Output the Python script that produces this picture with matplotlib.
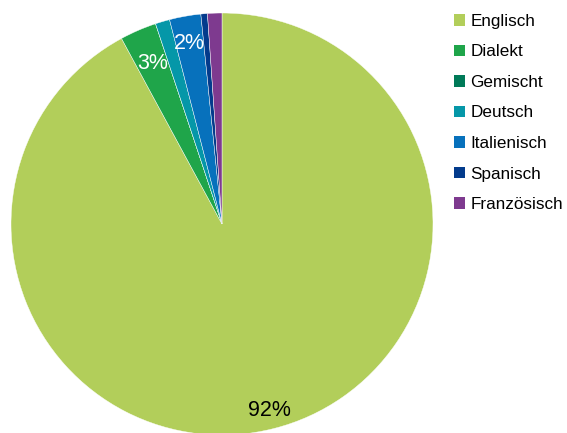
import matplotlib
matplotlib.use("Agg")
import matplotlib.pyplot as plt
import numpy as np

plt.rcParams['font.family'] = ['Liberation Sans', 'DejaVu Sans']

categories = ["Englisch", "Dialekt", "Gemischt", "Deutsch", "Italienisch", "Spanisch", "Französisch"]
values = [92.1, 2.8, 0.0, 1.1, 2.4, 0.5, 1.1]
colors = ["#B2CE5A", "#1FA54A", "#007A58", "#0597A8", "#0771BC", "#033B8C", "#7E3A8F"]
label_colors = ["black", "white", "white", "white", "white", "white", "white"]
label_dist = [0.91, 0.83, 0.85, 0.85, 0.87, 0.85, 0.85]

W, H = 567, 433
fig = plt.figure(figsize=(W / 100, H / 100), dpi=100)
cx, cy, r = 222, 224, 211
ax = fig.add_axes([(cx - r) / W, (H - cy - r) / H, 2 * r / W, 2 * r / H])

def fmt(p):
    return f"{p:.0f}%" if p >= 1.5 else ""

wedges, texts, autotexts = ax.pie(values, colors=colors, startangle=90, counterclock=False,
                                  radius=1, autopct=fmt, pctdistance=0.85,
                                  wedgeprops=dict(edgecolor="white", linewidth=0.3),
                                  textprops=dict(fontsize=15.5))
ax.set_xlim(-1, 1)
ax.set_ylim(-1, 1)
ax.set_aspect('equal')
ax.axis('off')
for w, t, c, d in zip(wedges, autotexts, label_colors, label_dist):
    ang = np.deg2rad((w.theta1 + w.theta2) / 2)
    t.set_position((d * np.cos(ang), d * np.sin(ang)))
    t.set_color(c)
    t.set_ha('center')
    t.set_va('center')

leg = fig.legend(wedges, categories, loc='upper left', bbox_to_anchor=(447 / W, 1 - 7 / H),
                 frameon=False, fontsize=12.3, handlelength=0.66, handleheight=0.66,
                 handletextpad=0.32, labelspacing=0.91, borderaxespad=0)
for h in leg.legend_handles:
    h.set_linewidth(0)

fig.savefig("out.png", dpi=100)
